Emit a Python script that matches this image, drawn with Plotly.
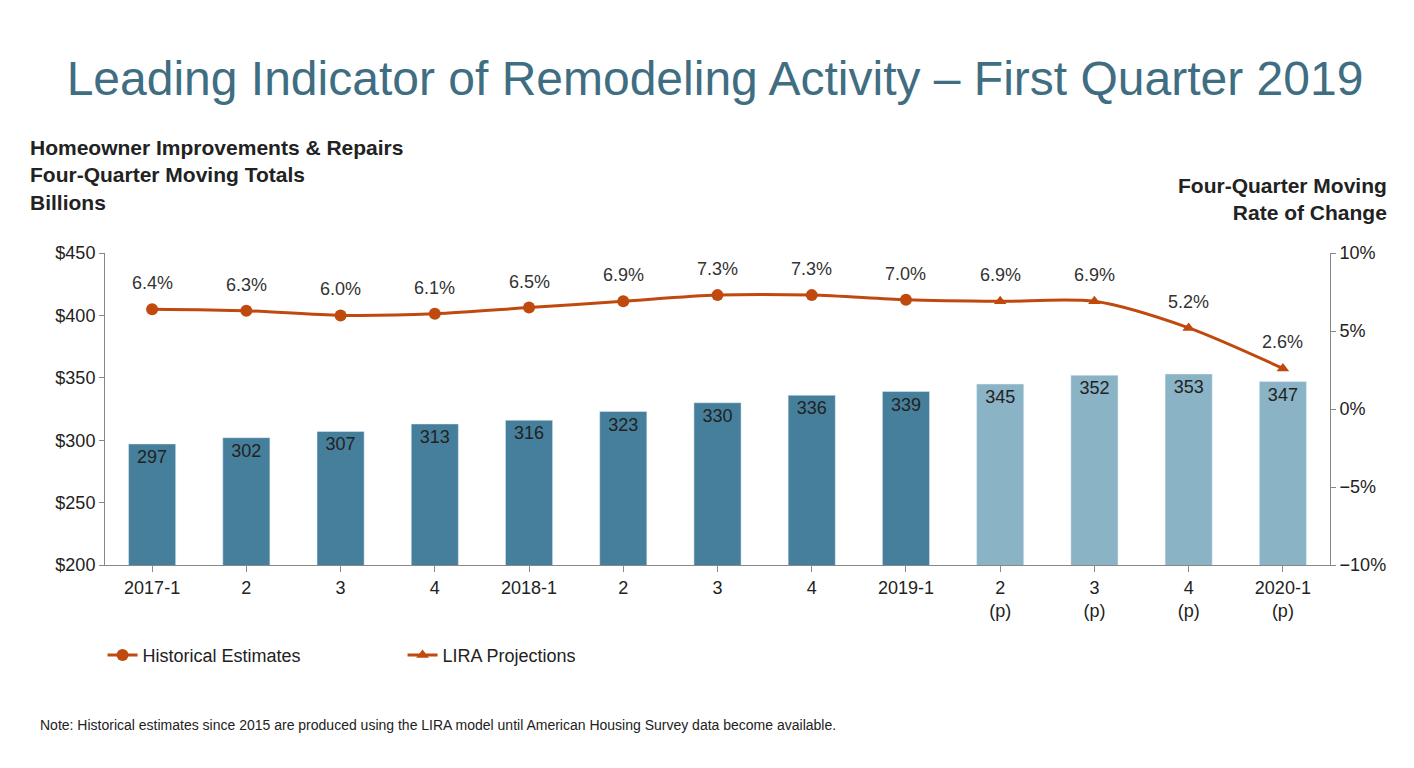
import plotly.graph_objects as go

cats = ["2017-1","2","3","4","2018-1","2","3","4","2019-1","2<br>(p)","3<br>(p)","4<br>(p)","2020-1<br>(p)"]
spend = [297,302,307,313,316,323,330,336,339,345,352,353,347]
rate = [6.4,6.3,6.0,6.1,6.5,6.9,7.3,7.3,7.0,6.9,6.9,5.2,2.6]
n_hist = 9

x = list(range(len(cats)))
dark, light, orange = "#457F9B", "#8AB3C6", "#C0490E"
bar_colors = [dark if i < n_hist else light for i in x]

fig = go.Figure()
fig.add_bar(x=x, y=spend, marker_color=bar_colors, width=0.5, showlegend=False,
            text=[str(v) for v in spend], textposition="inside", insidetextanchor="end",
            textfont=dict(size=18, color="#222"), hoverinfo="skip")
fig.add_scatter(x=x, y=rate, yaxis="y2", mode="lines",
                line=dict(color=orange, width=3, shape="spline", smoothing=0.8), showlegend=False)
fig.add_scatter(x=x[:n_hist], y=rate[:n_hist], yaxis="y2", mode="markers",
                marker=dict(symbol="circle", size=12, color=orange), showlegend=False)
fig.add_scatter(x=x[n_hist:], y=rate[n_hist:], yaxis="y2", mode="markers",
                marker=dict(symbol="triangle-up", size=11, color=orange), showlegend=False)
fig.add_scatter(x=[None], y=[None], yaxis="y2", mode="lines+markers",
                line=dict(color=orange, width=3), marker=dict(symbol="circle", size=12, color=orange),
                name="Historical Estimates")
fig.add_scatter(x=[None], y=[None], yaxis="y2", mode="lines+markers",
                line=dict(color=orange, width=3), marker=dict(symbol="triangle-up", size=11, color=orange),
                name="LIRA Projections")

annots = []
for xi, r in zip(x, rate):
    annots.append(dict(x=xi, y=r, xref="x", yref="y2", text=f"{r:.1f}%", showarrow=False,
                       yshift=26, font=dict(size=18, color="#333")))

fig.update_layout(
    width=1414, height=768, plot_bgcolor="white", paper_bgcolor="white",
    font=dict(family="Liberation Sans, Arial", color="#222", size=18),
    margin=dict(l=97, r=92, t=245, b=211),
    title=dict(text="Leading Indicator of Remodeling Activity – First Quarter 2019",
               x=0.5, xanchor="center", y=0.93, font=dict(size=48, color="#3F6E82")),
    xaxis=dict(tickvals=x, ticktext=cats, range=[-0.5, len(x)-0.5], showline=True,
               linecolor="#888", ticks="outside", ticklen=6, tickcolor="#888",
               tickfont=dict(size=18)),
    yaxis=dict(range=[200, 450], dtick=50, tickprefix="$", showgrid=False, showline=True,
               linecolor="#888", ticks="outside", tickcolor="#888", tickfont=dict(size=18)),
    yaxis2=dict(range=[-10, 10], dtick=5, ticksuffix="%", overlaying="y", side="right",
                showgrid=False, showline=True, linecolor="#888", ticks="outside",
                tickcolor="#888", zeroline=False, tickfont=dict(size=18)),
    legend=dict(orientation="h", x=-0.002, y=-0.23, xanchor="left", yanchor="top",
                font=dict(size=18), entrywidthmode="pixels", entrywidth=255),
    annotations=annots + [
        dict(text="<b>Homeowner Improvements & Repairs<br>Four-Quarter Moving Totals<br>Billions</b>",
             xref="paper", yref="paper", x=-0.063, y=1.38, xanchor="left", yanchor="top",
             align="left", showarrow=False, font=dict(size=21)),
        dict(text="<b>Four-Quarter Moving<br>Rate of Change</b>", xref="paper", yref="paper",
             x=1.048, y=1.26, xanchor="right", yanchor="top", align="right", showarrow=False,
             font=dict(size=21)),
        dict(text="Note: Historical estimates since 2015 are produced using the LIRA model until American Housing Survey data become available.",
             xref="paper", yref="paper", x=-0.055, y=-0.48, xanchor="left", yanchor="top",
             showarrow=False, font=dict(size=14)),
    ],
)
fig.write_html("out.html")
